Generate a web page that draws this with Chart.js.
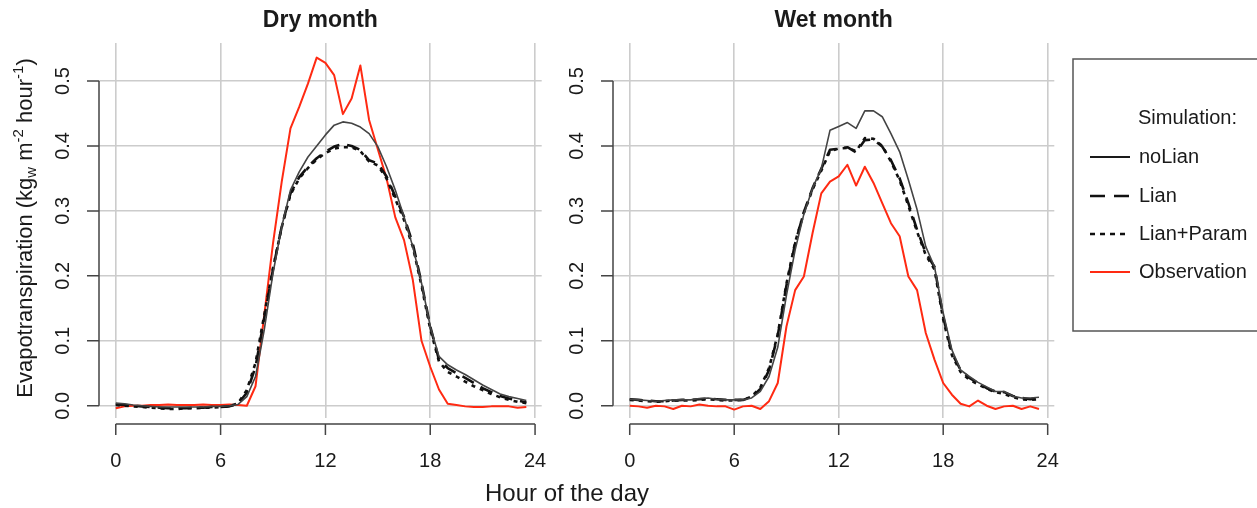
<!DOCTYPE html>
<html><head><meta charset="utf-8">
<script src="https://cdn.jsdelivr.net/npm/chart.js@4.4.1/dist/chart.umd.min.js"></script>
<style>
html,body{margin:0;padding:0;background:#fff;}
#wrap{position:relative;width:1257px;height:508px;overflow:hidden;background:#fff;}
canvas{position:absolute;left:0;top:0;}
</style>
</head><body>
<div id="wrap"><canvas id="dry" width="1257" height="508"></canvas><canvas id="wet" width="1257" height="508"></canvas></div>
<script>
const hours = [0,0.5,1,1.5,2,2.5,3,3.5,4,4.5,5,5.5,6,6.5,7,7.5,8,8.5,9,9.5,10,10.5,11,11.5,12,12.5,13,13.5,14,14.5,15,15.5,16,16.5,17,17.5,18,18.5,19,19.5,20,20.5,21,21.5,22,22.5,23,23.5];

const dryNoLian = [0.004,0.003,0.001,0.0,-0.001,-0.002,-0.002,-0.002,-0.002,-0.002,-0.002,-0.001,-0.001,0.0,0.002,0.014,0.045,0.117,0.204,0.276,0.332,0.36,0.383,0.400,0.417,0.432,0.437,0.435,0.429,0.419,0.399,0.368,0.332,0.291,0.245,0.189,0.122,0.076,0.063,0.055,0.048,0.040,0.032,0.025,0.018,0.014,0.011,0.008];
const dryLian = [0.002,0.001,0.0,-0.001,-0.002,-0.003,-0.004,-0.004,-0.004,-0.003,-0.003,-0.002,-0.002,-0.001,0.003,0.02,0.06,0.135,0.21,0.276,0.327,0.352,0.368,0.381,0.391,0.399,0.403,0.400,0.394,0.378,0.373,0.353,0.322,0.291,0.25,0.189,0.122,0.071,0.058,0.050,0.043,0.035,0.027,0.021,0.015,0.011,0.008,0.005];
const dryLianParam = [0.001,0.0,-0.001,-0.002,-0.003,-0.004,-0.005,-0.005,-0.004,-0.004,-0.003,-0.003,-0.002,-0.001,0.004,0.024,0.066,0.14,0.212,0.275,0.325,0.35,0.366,0.379,0.389,0.396,0.398,0.398,0.392,0.376,0.37,0.35,0.318,0.286,0.245,0.185,0.118,0.068,0.052,0.045,0.037,0.03,0.024,0.018,0.013,0.009,0.006,0.004];
const dryObs = [-0.004,-0.001,0.0,0.0,0.001,0.001,0.002,0.001,0.001,0.001,0.002,0.001,0.001,0.002,0.001,0.0,0.03,0.14,0.25,0.345,0.427,0.46,0.496,0.536,0.528,0.509,0.449,0.473,0.524,0.44,0.395,0.35,0.29,0.255,0.194,0.10,0.06,0.025,0.003,0.001,-0.001,-0.002,-0.002,-0.001,-0.001,-0.001,-0.003,-0.002];

const wetNoLian = [0.010,0.009,0.008,0.007,0.008,0.009,0.009,0.009,0.011,0.012,0.010,0.009,0.009,0.009,0.012,0.022,0.045,0.09,0.17,0.24,0.295,0.335,0.365,0.424,0.430,0.436,0.427,0.454,0.454,0.445,0.419,0.391,0.348,0.302,0.245,0.214,0.143,0.086,0.055,0.045,0.036,0.029,0.022,0.022,0.015,0.012,0.012,0.013];
const wetLian = [0.010,0.009,0.008,0.007,0.007,0.008,0.009,0.009,0.010,0.011,0.010,0.009,0.009,0.009,0.013,0.026,0.055,0.108,0.185,0.25,0.298,0.335,0.365,0.394,0.396,0.398,0.39,0.409,0.41,0.399,0.378,0.35,0.312,0.271,0.235,0.214,0.137,0.081,0.055,0.043,0.035,0.027,0.022,0.021,0.015,0.012,0.010,0.012];
const wetLianParam = [0.009,0.008,0.007,0.006,0.007,0.008,0.008,0.008,0.009,0.010,0.009,0.008,0.008,0.009,0.014,0.028,0.058,0.11,0.188,0.252,0.297,0.333,0.362,0.392,0.396,0.397,0.392,0.412,0.411,0.4,0.376,0.347,0.308,0.268,0.232,0.21,0.133,0.078,0.052,0.040,0.033,0.026,0.021,0.018,0.013,0.010,0.009,0.010];
const wetObs = [0.0,-0.001,-0.003,0.0,-0.001,-0.005,0.0,-0.001,0.002,0.0,-0.001,-0.001,-0.006,-0.001,0.0,-0.005,0.007,0.035,0.122,0.178,0.199,0.266,0.327,0.345,0.353,0.371,0.339,0.368,0.343,0.312,0.281,0.261,0.199,0.178,0.112,0.071,0.035,0.017,0.003,-0.001,0.008,0.0,-0.005,-0.001,0.0,-0.005,-0.001,-0.005];

const xTicks = [0,6,12,18,24];
const xTickLabels = ['0','6','12','18','24'];
const yTicks = [0,0.1,0.2,0.3,0.4,0.5];
const yTickLabels = ['0.0','0.1','0.2','0.3','0.4','0.5'];
const seriesNames = ['noLian','Lian','Lian+Param','Observation'];
const panelTitles = ['Dry month','Wet month'];
const yTitleParts = [['Evapotranspiration (kg',0],['w',1],[' m',0],['-2',2],[' hour',0],['-1',2],[')',0]];
const xTitle = 'Hour of the day';
const legendTitle = 'Simulation:';

const FONT = '"Liberation Sans", Arial, Helvetica, sans-serif';
const AXIS_COL = '#444444';
const GRID_COL = '#cccccc';
const RED = '#ff2a12';
const TXT = '#1a1a1a';

const styles = [
  {color:'#444444', width:1.6, dash:[], lcolor:'#1a1a1a', lwidth:2.2},
  {color:'#111111', width:2.6, dash:[13,8], lcolor:'#111111', lwidth:2.4},
  {color:'#111111', width:2.6, dash:[4,5], lcolor:'#111111', lwidth:2.4},
  {color:RED, width:2.0, dash:[], lcolor:RED, lwidth:2.2}
];

function pts(vals){ return hours.map((h,i)=>({x:h, y:vals[i]})); }

function txt(ctx, s, x, y, font, align, rotate){
  ctx.save();
  ctx.font = font;
  ctx.textAlign = align || 'center';
  ctx.textBaseline = 'middle';
  ctx.translate(x, y);
  if (rotate) ctx.rotate(-Math.PI/2);
  ctx.fillText(s, 0, 0);
  ctx.restore();
}

function axesPlugin(title, extra){
  return {
    id:'rAxes',
    afterDraw(chart){
      const ctx = chart.ctx, ca = chart.chartArea;
      const xs = chart.scales.x, ys = chart.scales.y;
      ctx.save();
      ctx.strokeStyle = AXIS_COL; ctx.lineWidth = 1.5;
      const ax = ca.left;
      ctx.beginPath();
      ctx.moveTo(ax, ys.getPixelForValue(yTicks[0]));
      ctx.lineTo(ax, ys.getPixelForValue(yTicks[yTicks.length-1]));
      yTicks.forEach(v=>{ const py = ys.getPixelForValue(v); ctx.moveTo(ax-12, py); ctx.lineTo(ax, py); });
      const ay = ca.bottom + 6;
      ctx.moveTo(xs.getPixelForValue(xTicks[0]), ay);
      ctx.lineTo(xs.getPixelForValue(xTicks[xTicks.length-1]), ay);
      xTicks.forEach(v=>{ const px = xs.getPixelForValue(v); ctx.moveTo(px, ay); ctx.lineTo(px, ay+11); });
      ctx.stroke();
      ctx.fillStyle = TXT;
      yTicks.forEach((v,i)=> txt(ctx, yTickLabels[i], ax-36, ys.getPixelForValue(v), '20px '+FONT, 'center', true));
      xTicks.forEach((v,i)=> txt(ctx, xTickLabels[i], xs.getPixelForValue(v), 461, '20px '+FONT, 'center', false));
      txt(ctx, title, (ca.left+ca.right)/2, 21, 'bold 23px '+FONT, 'center', false);
      ctx.restore();
      if (extra) extra(chart);
    }
  };
}

function drawGlobalTitles(chart){
  const ctx = chart.ctx;
  ctx.save();
  ctx.fillStyle = TXT;
  txt(ctx, xTitle, 567, 494, '24px '+FONT, 'center', false);
  const big = '22px '+FONT, small = '15px '+FONT;
  let total = 0;
  const widths = yTitleParts.map(([s,k])=>{ ctx.font = k? small : big; const w = ctx.measureText(s).width; total += w; return w; });
  ctx.translate(24, 228);
  ctx.rotate(-Math.PI/2);
  ctx.textBaseline = 'alphabetic';
  ctx.textAlign = 'left';
  let x = -total/2;
  yTitleParts.forEach(([s,k],i)=>{
    ctx.font = k? small : big;
    const dy = k===1 ? 12 : (k===2 ? -1 : 8);
    ctx.fillText(s, x, dy);
    x += widths[i];
  });
  ctx.restore();
}

function drawLegend(chart){
  const ctx = chart.ctx;
  ctx.save();
  ctx.strokeStyle = '#555'; ctx.lineWidth = 1.5;
  ctx.strokeRect(1073, 59, 200, 272);
  ctx.fillStyle = TXT;
  txt(ctx, legendTitle, 1138, 118, '20px '+FONT, 'left', false);
  const rows = [157,196,234,272];
  chart.data.datasets.forEach((ds,i)=>{
    const y = rows[i];
    ctx.save();
    ctx.strokeStyle = styles[i].lcolor; ctx.lineWidth = styles[i].lwidth;
    ctx.setLineDash(i===1 ? [15,9] : (i===2 ? [5,5] : []));
    ctx.beginPath(); ctx.moveTo(1090, y); ctx.lineTo(1130, y); ctx.stroke();
    ctx.restore();
    txt(ctx, ds.label, 1139, y, '20px '+FONT, 'left', false);
  });
  ctx.restore();
}

function makeChart(id, series, title, padLeft, padRight, extra){
  const datasets = series.map((vals,i)=>({
    label: seriesNames[i], data: pts(vals),
    borderColor: styles[i].color, borderWidth: styles[i].width, borderDash: styles[i].dash,
    pointRadius: 0, tension: 0, fill: false, borderJoinStyle:'round', borderCapStyle:'butt'
  }));
  return new Chart(document.getElementById(id), {
    type:'line',
    data:{datasets},
    options:{
      responsive:false, animation:false, events:[],
      layout:{padding:{left:padLeft, right:padRight, top:43, bottom:90}},
      plugins:{legend:{display:false}, tooltip:{enabled:false}, title:{display:false}},
      scales:{
        x:{type:'linear', min:-0.96, max:24.38,
           afterBuildTicks:s=>{ s.ticks = xTicks.map(v=>({value:v})); },
           ticks:{display:false}, border:{display:false},
           grid:{color:GRID_COL, lineWidth:1.6, drawTicks:false}},
        y:{type:'linear', min:-0.0189, max:0.5585,
           afterBuildTicks:s=>{ s.ticks = yTicks.map(v=>({value:v})); },
           ticks:{display:false}, border:{display:false},
           grid:{color:GRID_COL, lineWidth:1.6, drawTicks:false}}
      }
    },
    plugins:[axesPlugin(title, extra)]
  });
}

makeChart('dry', [dryNoLian, dryLian, dryLianParam, dryObs], panelTitles[0], 99, 1257-541.7, drawGlobalTitles);
makeChart('wet', [wetNoLian, wetLian, wetLianParam, wetObs], panelTitles[1], 613, 1257-1054.3, drawLegend);
</script>
</body></html>
